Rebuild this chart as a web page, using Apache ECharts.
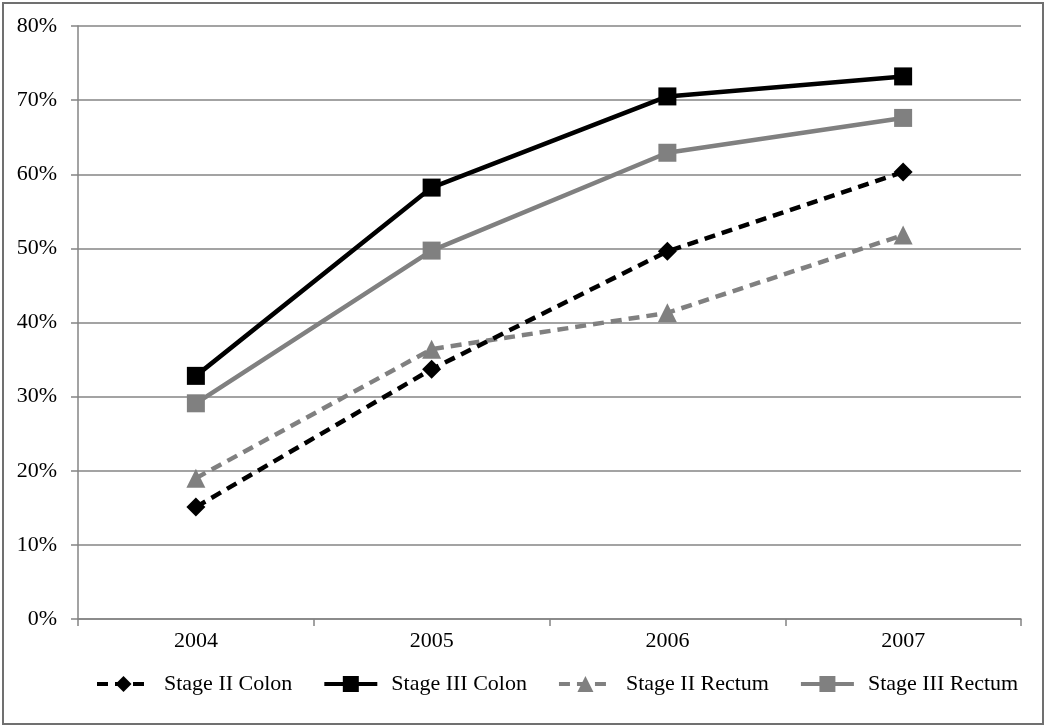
<!DOCTYPE html>
<html>
<head>
<meta charset="utf-8">
<script src="https://cdn.jsdelivr.net/npm/echarts@6/dist/echarts.min.js"></script>
<style>
html,body{margin:0;padding:0;background:#fff;}
#chart{width:1050px;height:728px;}
</style>
</head>
<body>
<div id="chart"></div>
<script>
const categories = ['2004', '2005', '2006', '2007'];
const stageIIColon = [15.1, 33.7, 49.6, 60.3];
const stageIIIColon = [32.8, 58.2, 70.5, 73.2];
const stageIIRectum = [19.0, 36.4, 41.3, 51.8];
const stageIIIRectum = [29.1, 49.7, 62.9, 67.6];
const yTicks = [0, 10, 20, 30, 40, 50, 60, 70, 80];

const FONT = '"Liberation Serif", "Times New Roman", serif';
const GRID_C = '#848484';
const GREY = '#808080';

const chart = echarts.init(document.getElementById('chart'), null, {renderer: 'canvas'});
chart.setOption({
  animation: false,
  backgroundColor: '#fff',
  graphic: [{
    type: 'rect', silent: true, z: -1,
    shape: {x: 3, y: 3, width: 1040, height: 721},
    style: {fill: 'none', stroke: '#707070', lineWidth: 2}
  }],
  grid: {left: 78, right: 29, top: 26, bottom: 109, containLabel: false},
  legend: {
    left: 90, top: 668,
    itemWidth: 53, itemHeight: 20, itemGap: 30,
    lineStyle: {width: 4},
    textStyle: {fontFamily: FONT, fontSize: 22, color: '#000', padding: [0, 0, 0, 9]},
    data: ['Stage II Colon', 'Stage III Colon', 'Stage II Rectum', 'Stage III Rectum']
  },
  xAxis: {
    type: 'category', data: categories, boundaryGap: true,
    axisLine: {lineStyle: {color: GRID_C, width: 1.5}},
    axisTick: {show: true, length: 7, lineStyle: {color: GRID_C, width: 1.5}},
    axisLabel: {fontFamily: FONT, fontSize: 22, color: '#000', margin: 11}
  },
  yAxis: {
    type: 'value', min: yTicks[0], max: yTicks[yTicks.length - 1], interval: 10,
    axisLine: {show: true, lineStyle: {color: GRID_C, width: 1.5}},
    axisTick: {show: true, length: 7, lineStyle: {color: GRID_C, width: 1.5}},
    axisLabel: {fontFamily: FONT, fontSize: 22, color: '#000', margin: 21, formatter: '{value}%'},
    splitLine: {show: true, lineStyle: {color: GRID_C, width: 1.5}}
  },
  series: [
    {
      name: 'Stage II Colon', type: 'line', data: stageIIColon,
      symbol: 'diamond', symbolSize: 19,
      lineStyle: {color: '#000', width: 4.5, type: [11, 7]},
      itemStyle: {color: '#000'}, z: 3
    },
    {
      name: 'Stage III Colon', type: 'line', data: stageIIIColon,
      symbol: 'rect', symbolSize: 18,
      lineStyle: {color: '#000', width: 4.5},
      itemStyle: {color: '#000'}, z: 4
    },
    {
      name: 'Stage II Rectum', type: 'line', data: stageIIRectum,
      symbol: 'triangle', symbolSize: 19,
      lineStyle: {color: GREY, width: 4.5, type: [11, 7]},
      itemStyle: {color: GREY}, z: 2
    },
    {
      name: 'Stage III Rectum', type: 'line', data: stageIIIRectum,
      symbol: 'rect', symbolSize: 18,
      lineStyle: {color: GREY, width: 4.5},
      itemStyle: {color: GREY}, z: 2
    }
  ]
});
</script>
</body>
</html>
